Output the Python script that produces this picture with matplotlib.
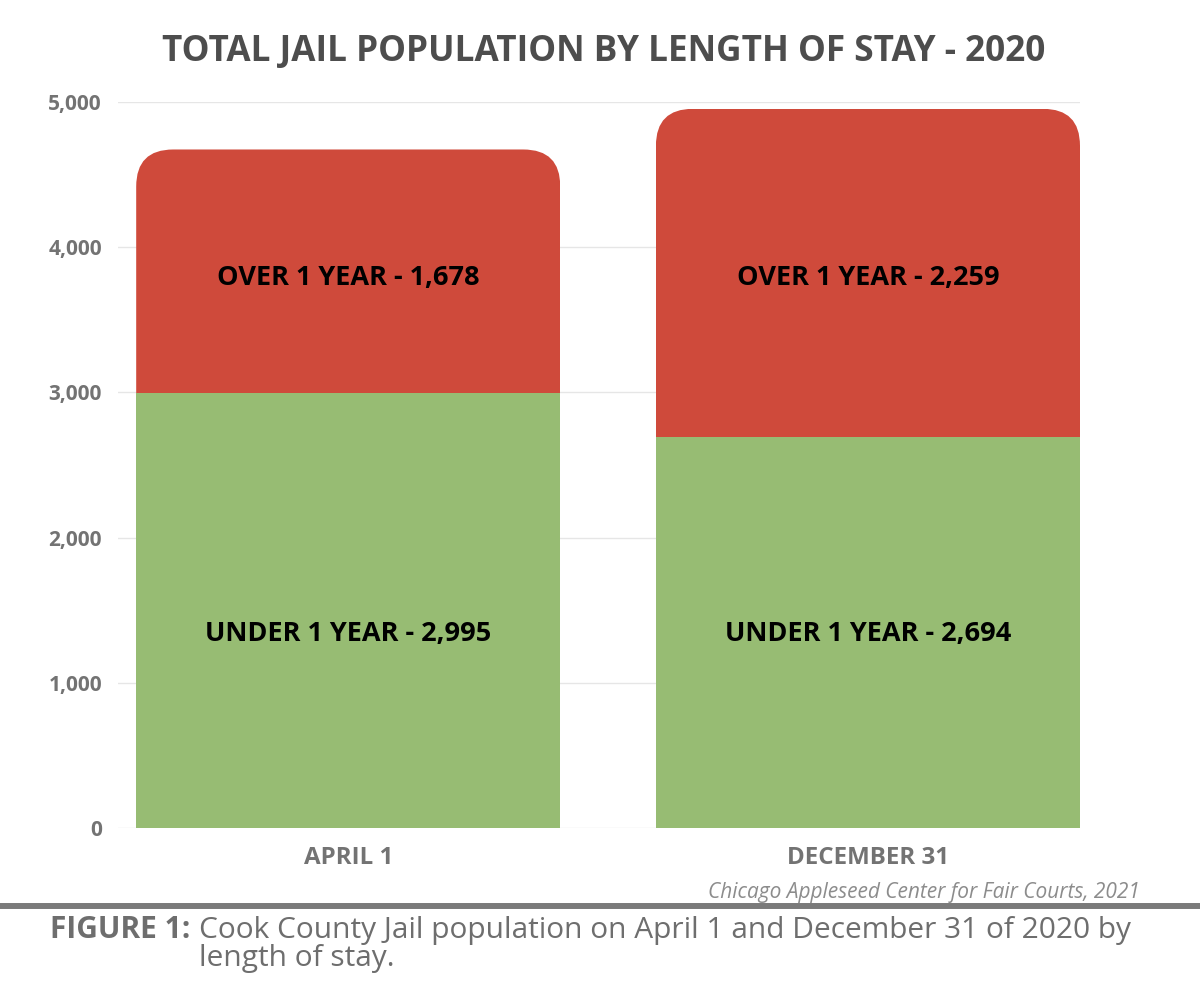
import matplotlib
matplotlib.use("Agg")
import matplotlib.pyplot as plt
from matplotlib.patches import FancyBboxPatch
from matplotlib.lines import Line2D
from matplotlib.ticker import FuncFormatter

# ---- data ----
categories = ["APRIL 1", "DECEMBER 31"]
under_1_year = [2995, 2694]
over_1_year = [1678, 2259]
y_ticks = [0, 1000, 2000, 3000, 4000, 5000]
title = "TOTAL JAIL POPULATION BY LENGTH OF STAY - 2020"
source = "Chicago Appleseed Center for Fair Courts, 2021"
caption_label = "FIGURE 1:"
caption_line1 = "Cook County Jail population on April 1 and December 31 of 2020 by"
caption_line2 = "length of stay."

# ---- style ----
plt.rcParams['font.family'] = ['Open Sans', 'DejaVu Sans']
RED = "#CF4A3B"
GREEN = "#97BC73"
TICK_GRAY = "#737373"
W, H, DPI = 1200, 985, 100

fig = plt.figure(figsize=(W / DPI, H / DPI), dpi=DPI)
ax = fig.add_axes([118 / W, 1 - 828 / H, (1080 - 118) / W, (828 - 102) / H])

x = list(range(len(categories)))
bar_w = 0.816
ax.set_xlim(-0.443, 1.408)
ax.set_ylim(0, 5000)

green_bars = ax.bar(x, under_1_year, width=bar_w, color=GREEN, zorder=2)
red_bars = ax.bar(x, over_1_year, width=bar_w, bottom=under_1_year, color=RED, zorder=2)

# rounded top corners via clip path
fig.canvas.draw()
p0 = ax.transData.transform((0, 0))
p1 = ax.transData.transform((1, 1000))
px_per_x = p1[0] - p0[0]
px_per_y = (p1[1] - p0[1]) / 1000
radius_px = 37
r_x = radius_px / px_per_x
aspect = (radius_px / px_per_y) / r_x
for rb in red_bars:
    bx = rb.get_x()
    bw = rb.get_width()
    top = rb.get_y() + rb.get_height()
    clip = FancyBboxPatch((bx, 0), bw, top,
                          boxstyle=f"round,pad=0,rounding_size={r_x}",
                          mutation_aspect=aspect)
    clip.set_transform(ax.transData)
    rb.set_clip_path(clip)

# bar labels
for xi, u, o in zip(x, under_1_year, over_1_year):
    ax.text(xi, 3790, f"OVER 1 YEAR - {o:,}", ha="center", va="center",
            fontsize=19.5, fontweight="bold", color="black", zorder=3)
    ax.text(xi, 1335, f"UNDER 1 YEAR - {u:,}", ha="center", va="center",
            fontsize=19.5, fontweight="bold", color="black", zorder=3)

# axes styling
ax.set_yticks(y_ticks)
ax.yaxis.set_major_formatter(FuncFormatter(lambda v, p: f"{int(v):,}"))
ax.set_xticks(x)
ax.set_xticklabels(categories)
ax.tick_params(axis="both", length=0, colors=TICK_GRAY)
ax.tick_params(axis="y", pad=11.5, labelsize=15)
ax.tick_params(axis="x", pad=13, labelsize=17.4)
for lab in ax.get_xticklabels() + ax.get_yticklabels():
    lab.set_fontweight("bold")
ax.grid(axis="y", color="#E6E6E6", linewidth=1, zorder=0)
ax.set_axisbelow(True)
for s in ax.spines.values():
    s.set_visible(False)

# title
fig.text(604 / W, 1 - 52 / H, title, ha="center", va="center",
         fontsize=25.3, fontweight="bold", color="#4D4D4D")

# source
fig.text(1140 / W, 1 - 898 / H, source, ha="right", va="baseline",
         fontsize=15, style="italic", color="#8C8C8C")

# rule
fig.add_artist(Line2D([0, 1], [1 - 906 / H, 1 - 906 / H], transform=fig.transFigure,
                      color="#7A7A7A", linewidth=4.3))

# caption
fig.text(50 / W, 1 - 938 / H, caption_label, ha="left", va="baseline",
         fontsize=21.5, fontweight="bold", color="#6E6E6E")
fig.text(199 / W, 1 - 938 / H, caption_line1, ha="left", va="baseline",
         fontsize=21.5, color="#6E6E6E")
fig.text(199 / W, 1 - 966 / H, caption_line2, ha="left", va="baseline",
         fontsize=21.5, color="#6E6E6E")

fig.savefig("out.png", dpi=DPI)
